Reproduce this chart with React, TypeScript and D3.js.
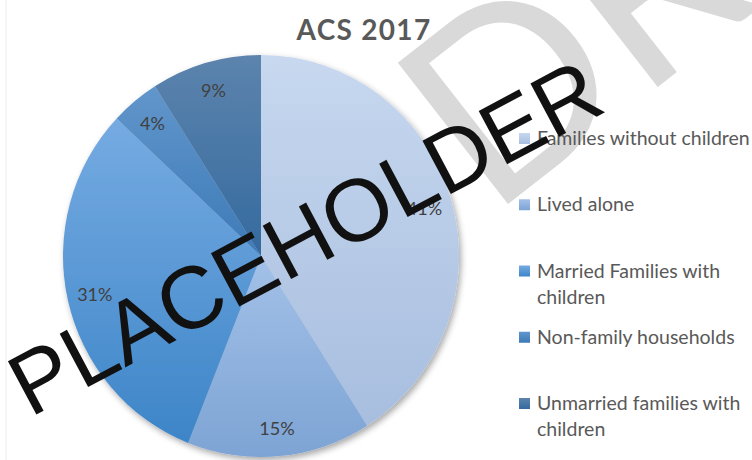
import React from "react";
import * as d3 from "d3";

const categories = [
  "Families without children",
  "Lived alone",
  "Married Families with children",
  "Non-family households",
  "Unmarried families with children",
];
const values = [41, 15, 31, 4, 9];
const legendLines = [
  ["Families without children"],
  ["Lived alone"],
  ["Married Families with", "children"],
  ["Non-family households"],
  ["Unmarried families with", "children"],
];
const colorTop = ["#c7d8ef", "#a3c1e8", "#76abe2", "#6196cb", "#5c84ad"];
const colorBottom = ["#a8bedf", "#7da4d4", "#3d85c8", "#3d7ab8", "#356a9f"];
const title = "ACS 2017";

const W = 752;
const H = 460;
const cx = 261;
const cy = 256;
const rx = 198;
const ry = 201;

export default function App() {
  const pie = d3.pie<number>().sort(null).value((d) => d)(values);
  const arc = d3.arc<d3.PieArcDatum<number>>().innerRadius(0).outerRadius(rx);
  const labelArc = d3
    .arc<d3.PieArcDatum<number>>()
    .innerRadius(rx * 0.86)
    .outerRadius(rx * 0.86);
  const total = d3.sum(values);
  const sy = ry / rx;
  const legendY = d3.scaleLinear().domain([0, 4]).range([145, 410]);
  const font = "Lato, 'Open Sans', sans-serif";

  return (
    <svg
      width={W}
      height={H}
      style={{ position: "absolute", left: 0, top: 0, background: "#fff" }}
    >
      <defs>
        {values.map((_, i) => (
          <linearGradient key={i} id={`g${i}`} x1="0" y1="0" x2="0" y2="1">
            <stop offset="0%" stopColor={colorTop[i]} />
            <stop offset="100%" stopColor={colorBottom[i]} />
          </linearGradient>
        ))}
        <filter id="shadow" x="-20%" y="-20%" width="140%" height="140%">
          <feDropShadow dx="2" dy="3" stdDeviation="3" floodColor="#000" floodOpacity="0.35" />
        </filter>
      </defs>
      <rect x={6} y={-20} width={W} height={H + 40} rx={22} fill="#fff" stroke="#ececec" />
      <g filter="url(#shadow)" transform={`translate(${cx},${cy}) scale(1,${sy})`}>
        {pie.map((d, i) => (
          <path key={i} d={arc(d) || ""} fill={`url(#g${i})`} />
        ))}
      </g>
      {pie.map((d, i) => {
        const [x, y] = labelArc.centroid(d);
        return (
          <text
            key={i}
            x={cx + x}
            y={cy + y * sy}
            textAnchor="middle"
            dominantBaseline="central"
            fontFamily={font}
            fontSize={18}
            fill="#404040"
          >
            {Math.round((d.value / total) * 100)}%
          </text>
        );
      })}
      <text
        transform="translate(490,218) rotate(-38)"
        fontFamily={font}
        fontWeight={400}
        fontSize={250}
        fill="#d9d9d9"
      >
        DRAFT
      </text>
      <text
        x={364}
        y={40}
        textAnchor="middle"
        fontFamily={font}
        fontWeight="bold"
        fontSize={28}
        letterSpacing={1.3}
        fill="#595959"
      >
        {title}
      </text>
      {categories.map((c, i) => {
        const y0 = legendY(i);
        return (
          <g key={c}>
            <rect x={519} y={y0 - 12} width={11} height={11} fill={`url(#g${i})`} />
            {legendLines[i].map((l, j) => (
              <text
                key={j}
                x={537}
                y={y0 + j * 26}
                fontFamily={font}
                fontSize={19.5}
                fill="#595959"
              >
                {l}
              </text>
            ))}
          </g>
        );
      })}
      <text
        transform="translate(30,418) rotate(-28)"
        fontFamily="'Liberation Sans', Arial, sans-serif"
        fontSize={88}
        fill="#111"
      >
        PLACEHOLDER
      </text>
    </svg>
  );
}
